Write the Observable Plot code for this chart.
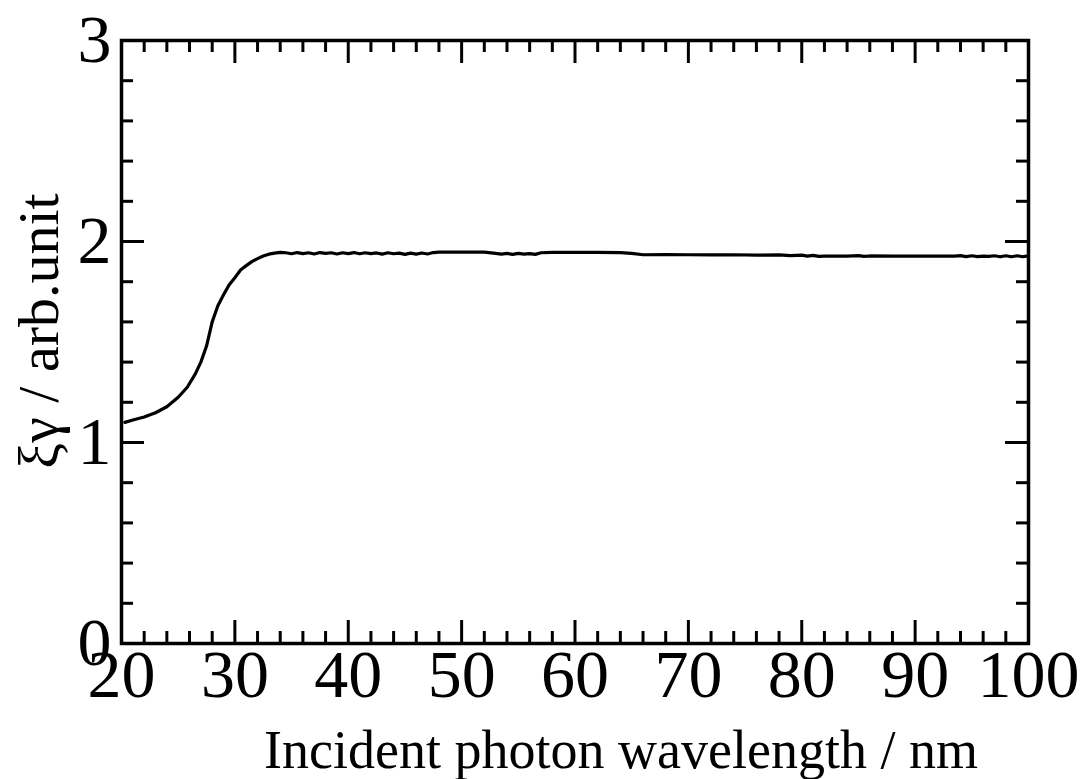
<!DOCTYPE html>
<html>
<head>
<meta charset="utf-8">
<script src="https://cdn.jsdelivr.net/npm/d3@7"></script>
<script src="https://cdn.jsdelivr.net/npm/@observablehq/plot@0.6"></script>
<style>
  html, body { margin: 0; padding: 0; background: #fff; }
  #chart svg { display: block; }
</style>
</head>
<body>
<div id="chart"></div>
<script>
// Incident photon wavelength (nm)
const wavelength = [20.3, 21, 22, 23, 24, 25, 25.8, 26.5, 27, 27.5, 28, 28.5, 29, 29.5, 30, 30.5, 31, 31.5, 32, 32.5, 33, 33.5, 34,
  34.5, 35, 35.5, 36, 36.5, 37, 37.5, 38, 38.5, 39, 39.5, 40, 40.5, 41, 41.5, 42, 42.5, 43, 43.5, 44, 44.5, 45, 45.5, 46, 46.5, 47, 47.5,
  48, 50, 52, 53, 53.5, 54, 54.5, 55, 55.5, 56, 56.5, 57, 58, 60, 62, 64, 65, 66, 68, 70,
  72, 74, 76, 78, 79, 80, 80.5, 81, 81.5, 82, 84, 85, 85.5, 86, 88, 90, 92, 93.5, 94, 94.5, 95, 95.5, 96, 96.5, 97, 97.5, 98, 98.5, 99, 99.5, 99.8];
// ξγ (arb. unit)
const xiGamma = [1.100, 1.112, 1.127, 1.148, 1.178, 1.225, 1.275, 1.34, 1.40, 1.48, 1.60, 1.68, 1.735, 1.785, 1.82, 1.858, 1.88, 1.90, 1.915, 1.928, 1.937, 1.942, 1.946,
  1.944, 1.939, 1.945, 1.940, 1.944, 1.938, 1.945, 1.941, 1.944, 1.938, 1.944, 1.940, 1.945, 1.939, 1.944, 1.940, 1.943, 1.937, 1.944, 1.939, 1.942, 1.936, 1.942, 1.937, 1.943, 1.938, 1.945,
  1.947, 1.947, 1.947, 1.941, 1.937, 1.941, 1.936, 1.941, 1.937, 1.940, 1.936, 1.944, 1.946, 1.946, 1.946, 1.945, 1.941, 1.934, 1.935, 1.934,
  1.933, 1.934, 1.932, 1.933, 1.930, 1.932, 1.927, 1.931, 1.926, 1.927, 1.927, 1.930, 1.926, 1.928, 1.927, 1.927, 1.927, 1.927, 1.930, 1.925, 1.929, 1.925, 1.927, 1.926, 1.929, 1.924, 1.929, 1.924, 1.929, 1.924, 1.927];

const xMajor = [20, 30, 40, 50, 60, 70, 80, 90, 100];
const xMinor = d3.range(22, 100, 2).filter(v => v % 10 !== 0);
const yMajor = [0, 1, 2, 3];
const yMinor = d3.range(1, 15).map(i => i / 5).filter(v => Math.abs(v - Math.round(v)) > 1e-9);

const xLabel = "Incident photon wavelength / nm";
const yLabel = "ξγ / arb.unit";

const data = wavelength.map((w, i) => ({w, v: xiGamma[i]}));

const W = 1084, H = 779;
const mL = 121, mR = 56, mT = 40, mB = 136;
const innerH = H - mT - mB, innerW = W - mL - mR;
const majLen = 23, minLen = 12;
const font = "'Liberation Serif', 'Times New Roman', Times, serif";
const sw = 3;

const chart = Plot.plot({
  width: W, height: H,
  marginLeft: mL, marginRight: mR, marginTop: mT, marginBottom: mB,
  style: {fontFamily: font, background: "#fff", color: "#000"},
  x: {domain: [20, 100]},
  y: {domain: [0, 3]},
  marks: [
    Plot.axisX(xMajor, {tickSize: 0, tickPadding: 5, fontSize: 68, label: null, tickFormat: d => String(d)}),
    Plot.axisY(yMajor, {tickSize: 0, tickPadding: 10, fontSize: 68, label: null, tickFormat: d => String(d)}),
    // inward ticks, bottom & top
    Plot.tickX(xMajor, {x: d => d, insetTop: innerH - majLen, stroke: "#000", strokeWidth: sw}),
    Plot.tickX(xMajor, {x: d => d, insetBottom: innerH - majLen, stroke: "#000", strokeWidth: sw}),
    Plot.tickX(xMinor, {x: d => d, insetTop: innerH - minLen, stroke: "#000", strokeWidth: sw}),
    Plot.tickX(xMinor, {x: d => d, insetBottom: innerH - minLen, stroke: "#000", strokeWidth: sw}),
    // inward ticks, left & right
    Plot.tickY(yMajor, {y: d => d, insetRight: innerW - majLen, stroke: "#000", strokeWidth: sw}),
    Plot.tickY(yMajor, {y: d => d, insetLeft: innerW - majLen, stroke: "#000", strokeWidth: sw}),
    Plot.tickY(yMinor, {y: d => d, insetRight: innerW - minLen, stroke: "#000", strokeWidth: sw}),
    Plot.tickY(yMinor, {y: d => d, insetLeft: innerW - minLen, stroke: "#000", strokeWidth: sw}),
    Plot.line(data, {x: "w", y: "v", stroke: "#000", strokeWidth: 3.2, curve: "linear"}),
    Plot.frame({stroke: "#000", strokeWidth: 3.5}),
    Plot.text([xLabel], {text: d => d, frameAnchor: "bottom", dx: 46, dy: 107, lineAnchor: "middle", fontSize: 54, fill: "#000"}),
    Plot.text([yLabel], {text: d => d, frameAnchor: "left", dx: -82, dy: -11, rotate: -90, lineAnchor: "middle", textAnchor: "middle", fontSize: 58, fill: "#000"})
  ]
});
document.getElementById("chart").appendChild(chart);
</script>
</body>
</html>
